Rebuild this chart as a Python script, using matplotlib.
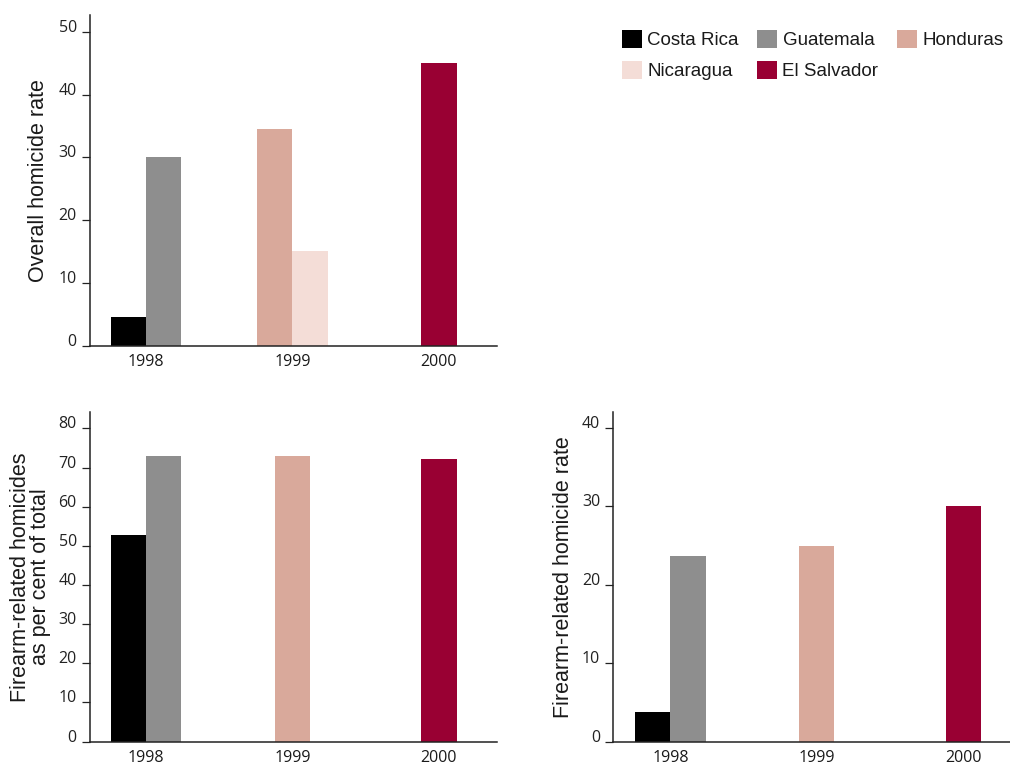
import numpy as np
import matplotlib.pyplot as plt
from matplotlib.patches import Patch

years = ['1998', '1999', '2000']
countries = ['Costa Rica', 'Guatemala', 'Honduras', 'Nicaragua', 'El Salvador']
country_year = ['1998', '1998', '1999', '1999', '2000']
colors = ['#000000', '#8e8e8e', '#d9a99b', '#f4ddd7', '#990033']

overall_rate = [4.6, 30.0, 34.6, 15.0, 45.0]
firearm_pct = [52.7, 72.9, 72.9, None, 72.1]
firearm_rate = [3.8, 23.7, 25.0, None, 30.1]

BAR_W = 0.24
TICK_FONT = 'Open Sans'
LABEL_FONT = 'Liberation Sans'


def draw_panel(ax, values, ymax, yticks, ylabel, xlim, label_x, linespacing=1.2):
    for i, yr in enumerate(years):
        idx = [k for k in range(len(countries)) if country_year[k] == yr and values[k] is not None]
        n = len(idx)
        for j, k in enumerate(idx):
            ax.bar(i + (j - (n - 1) / 2) * BAR_W, values[k], width=BAR_W,
                   color=colors[k], linewidth=0)

    ax.set_xlim(*xlim)
    ax.set_ylim(0, ymax)
    ax.set_xticks(range(len(years)))
    ax.set_xticklabels(years, fontfamily=TICK_FONT, fontsize=11.5, color='#1a1a1a')
    ax.set_yticks(yticks)
    ax.set_yticklabels([str(t) for t in yticks], fontfamily=TICK_FONT, fontsize=11.5,
                       color='#222222')
    for lbl in ax.get_yticklabels():
        lbl.set_verticalalignment('baseline')
    ax.tick_params(axis='x', length=0, pad=6)
    ax.tick_params(axis='y', length=6, width=0.9, color='#222222', pad=3.5)

    for s in ['top', 'right']:
        ax.spines[s].set_visible(False)
    for s in ['left', 'bottom']:
        ax.spines[s].set_color('#222222')
        ax.spines[s].set_linewidth(1.1)

    ax.set_ylabel(ylabel, fontfamily=LABEL_FONT, fontsize=15.5, color='#1a1a1a',
                  linespacing=linespacing)
    ax.yaxis.set_label_coords(label_x, 0.5)


fig = plt.figure(figsize=(10.1, 7.67), dpi=100)

ax1 = fig.add_axes([0.0891, 0.5495, 0.4030, 0.4309])
ax2 = fig.add_axes([0.0891, 0.0332, 0.4030, 0.4292])
ax3 = fig.add_axes([0.6072, 0.0332, 0.3928, 0.4292])

draw_panel(ax1, overall_rate, 52.7, range(0, 51, 10), 'Overall homicide rate',
           (-0.382, 2.396), -0.100)
draw_panel(ax2, firearm_pct, 84.1, range(0, 81, 10),
           'Firearm-related homicides\nas per cent of total',
           (-0.382, 2.396), -0.095, linespacing=0.95)
draw_panel(ax3, firearm_rate, 42.0, range(0, 41, 10), 'Firearm-related homicide rate',
           (-0.39, 2.32), -0.100)

# legend, filled row by row
order = [0, 3, 1, 4, 2]
handles = [Patch(facecolor=colors[k], edgecolor='none', label=countries[k]) for k in order]
fig.legend(handles=handles, loc='upper left', bbox_to_anchor=(622 / 1010, 1 - 30 / 767),
           ncol=3, frameon=False, borderpad=0, borderaxespad=0,
           handlelength=1.07, handleheight=1.1, handletextpad=0.27,
           labelspacing=0.6, columnspacing=1.0,
           prop={'family': LABEL_FONT, 'size': 13.5}, labelcolor='#1a1a1a')

fig.savefig('out.png', dpi=100)
